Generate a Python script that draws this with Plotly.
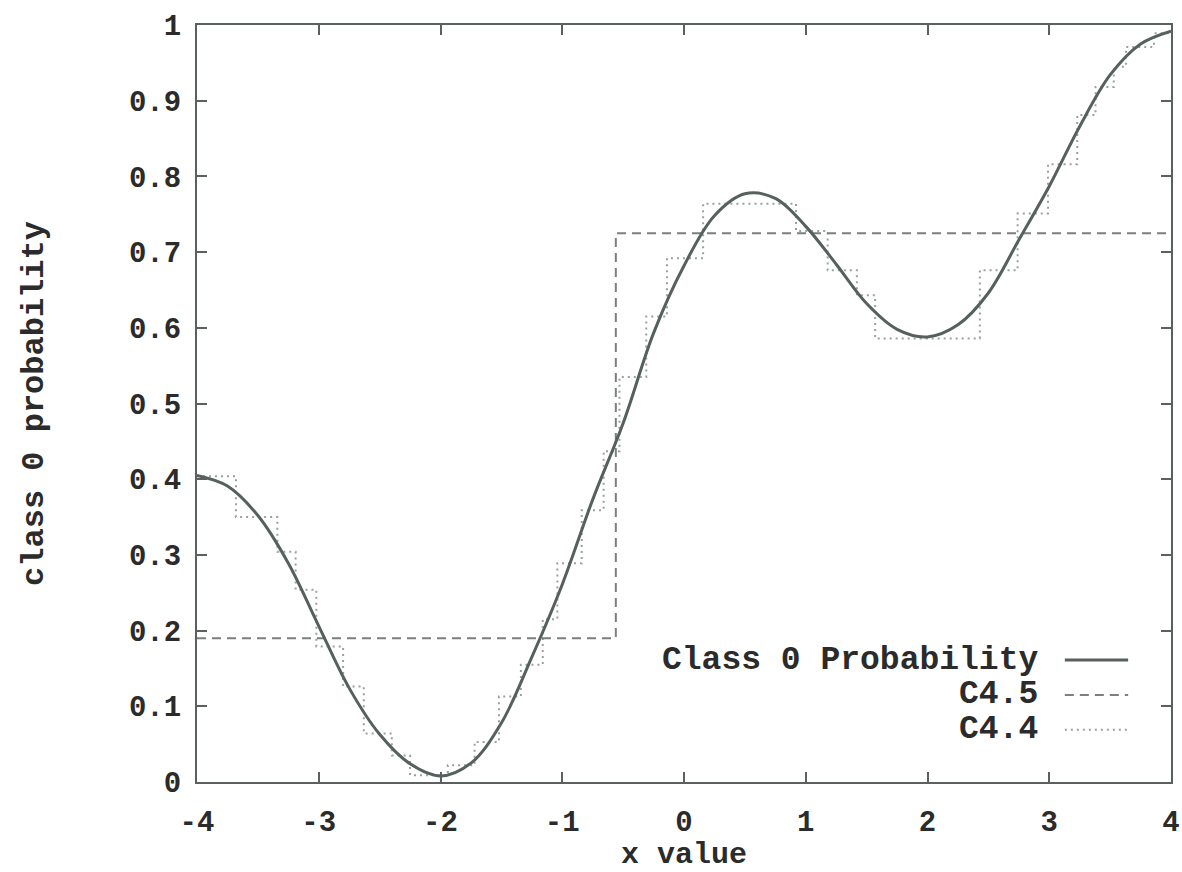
import plotly.graph_objects as go

# ---- data ----
curve_x = [-4.0, -3.75, -3.5, -3.25, -3.0, -2.75, -2.5, -2.25, -2.0, -1.75, -1.5,
           -1.25, -1.0, -0.75, -0.5, -0.25, 0.0, 0.25, 0.5, 0.75, 1.0, 1.25, 1.5,
           1.75, 2.0, 2.25, 2.5, 2.75, 3.0, 3.25, 3.5, 3.75, 4.0]
curve_y = [0.405, 0.391, 0.352, 0.289, 0.206, 0.124, 0.063, 0.024, 0.008, 0.025, 0.078,
           0.165, 0.261, 0.373, 0.474, 0.593, 0.682, 0.748, 0.777, 0.771, 0.734, 0.684, 0.632,
           0.598, 0.588, 0.604, 0.646, 0.716, 0.787, 0.866, 0.934, 0.975, 0.992]

c45_edges = [-4.0, -0.56, 4.0]
c45_levels = [0.19, 0.725]

c44_edges = [-4.0, -3.68, -3.34, -3.19, -3.02, -2.80, -2.63, -2.40, -2.25, -1.94, -1.72,
             -1.52, -1.34, -1.16, -1.04, -0.84, -0.66, -0.53, -0.31, -0.14, 0.157, 0.92,
             1.18, 1.42, 1.57, 2.43, 2.74, 2.99, 3.23, 3.38, 3.53, 3.63, 3.86, 4.0]
c44_levels = [0.404, 0.350, 0.304, 0.254, 0.179, 0.126, 0.064, 0.035, 0.009, 0.022,
              0.053, 0.113, 0.155, 0.215, 0.289, 0.359, 0.437, 0.535, 0.615, 0.692,
              0.764, 0.728, 0.676, 0.643, 0.586, 0.676, 0.751, 0.816, 0.881, 0.918,
              0.945, 0.971, 0.989]

x_ticks = [-4, -3, -2, -1, 0, 1, 2, 3, 4]
x_tick_labels = ["-4", "-3", "-2", "-1", "0", "1", "2", "3", "4"]
y_ticks = [0, 0.1, 0.2, 0.3, 0.4, 0.5, 0.6, 0.7, 0.8, 0.9, 1]
y_tick_labels = ["0", "0.1", "0.2", "0.3", "0.4", "0.5", "0.6", "0.7", "0.8", "0.9", "1"]

series_names = ["Class 0 Probability", "C4.5", "C4.4"]

FONT = "Liberation Mono"
TXT = "#2b2b2b"
C_CURVE = "#56605f"
C_45 = "#7a7f7f"
C_44 = "#9aa0a0"

fig = go.Figure()

fig.add_trace(go.Scatter(x=c44_edges, y=c44_levels + [c44_levels[-1]], mode="lines",
                         line=dict(shape="hv", color=C_44, width=2, dash="2px,4px"),
                         name=series_names[2], showlegend=False))
fig.add_trace(go.Scatter(x=c45_edges, y=c45_levels + [c45_levels[-1]], mode="lines",
                         line=dict(shape="hv", color=C_45, width=2, dash="9px,6px"),
                         name=series_names[1], showlegend=False))
fig.add_trace(go.Scatter(x=curve_x, y=curve_y, mode="lines",
                         line=dict(shape="spline", smoothing=1.0, color=C_CURVE, width=3),
                         name=series_names[0], showlegend=False))

# gnuplot-style legend: right-aligned text, sample line on the right
leg_y = [0.161, 0.115, 0.069]
leg_dash = ["solid", "9px,6px", "2px,4px"]
leg_col = [C_CURVE, C_45, C_44]
leg_w = [3, 2, 2]
for name, yy, d, c, w in zip(series_names, leg_y, leg_dash, leg_col, leg_w):
    fig.add_annotation(x=0.866, y=yy, xref="paper", yref="paper", text="<b>%s</b>" % name,
                       showarrow=False, xanchor="right", yanchor="middle",
                       font=dict(family=FONT, size=33, color=TXT))
    fig.add_shape(type="line", xref="paper", yref="paper", x0=0.891, x1=0.956, y0=yy, y1=yy,
                  line=dict(color=c, width=w, dash=d))

axis_common = dict(showline=True, mirror="allticks", linecolor="#5a5f5f", linewidth=2,
                   ticks="inside", ticklen=10, tickwidth=2, tickcolor="#5a5f5f",
                   showgrid=False, zeroline=False, automargin=False,
                   ticklabeloverflow="allow",
                   tickfont=dict(family=FONT, size=29, color=TXT))

fig.update_layout(
    width=1182, height=872,
    margin=dict(l=197, r=11, t=25, b=90),
    paper_bgcolor="white", plot_bgcolor="white",
    hovermode=False,
    xaxis=dict(range=[-4, 4], tickvals=x_ticks, ticktext=["<b>%s</b>" % t for t in x_tick_labels],
               ticklabelstandoff=12,
               title=dict(text="<b>x value</b>", standoff=5,
                          font=dict(family=FONT, size=30, color=TXT)),
               **axis_common),
    yaxis=dict(range=[0, 1], tickvals=y_ticks, ticktext=["<b>%s</b>" % t for t in y_tick_labels],
               ticklabelstandoff=8,
               title=dict(text="<b>class 0 probability</b>", standoff=76,
                          font=dict(family=FONT, size=32, color=TXT)),
               **axis_common),
)

# remove the default 8px page margin so the 1182x872 figure fills the window exactly
fig.write_html("out.html", config={"displayModeBar": False},
               post_script="document.body.style.margin='0';document.body.style.overflow='hidden';")
